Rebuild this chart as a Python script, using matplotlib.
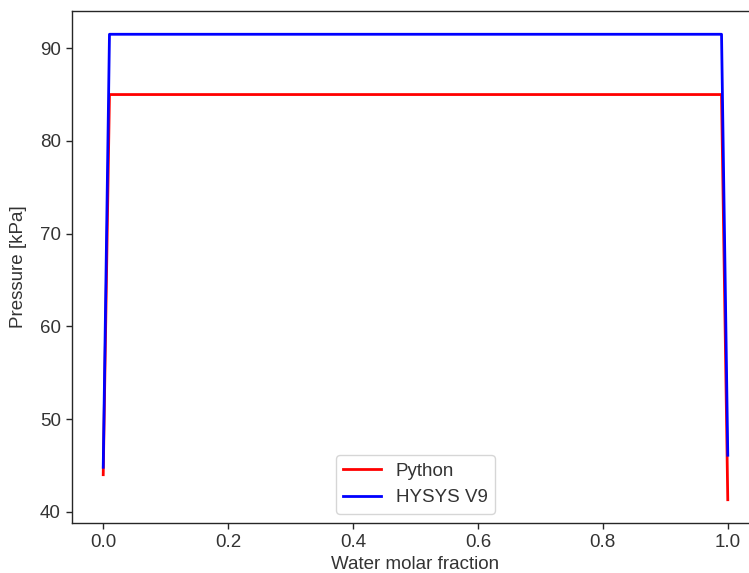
import matplotlib
matplotlib.use("Agg")
import matplotlib.pyplot as plt

# Data
water_fraction = [0.0, 0.01, 0.99, 1.0]
python_pressure = [44.0, 85.0, 85.0, 41.3]
hysys_pressure = [44.8, 91.5, 91.5, 46.1]

plt.rcParams['font.family'] = ['Liberation Sans', 'DejaVu Sans']
text_color = '#333333'
plt.rcParams.update({
    'axes.edgecolor': '#262626',
    'axes.labelcolor': text_color,
    'xtick.color': '#262626',
    'ytick.color': '#262626',
    'xtick.labelcolor': text_color,
    'ytick.labelcolor': text_color,
    'text.color': text_color,
})

fig = plt.figure(figsize=(7.49, 5.73), dpi=100)
ax = fig.add_axes([72/749, 50/573, 687/749, 512/573])

ax.plot(water_fraction, python_pressure, color='red', lw=2.0, label='Python')
ax.plot(water_fraction, hysys_pressure, color='blue', lw=2.0, label='HYSYS V9')

fs = 13.5
ax.set_xlabel('Water molar fraction', fontsize=fs, labelpad=3.5)
ax.set_ylabel('Pressure [kPa]', fontsize=fs, labelpad=9)
ax.tick_params(labelsize=fs, length=4.5, width=1.0)
for s in ax.spines.values():
    s.set_linewidth(1.0)

ax.set_xticks([0.0, 0.2, 0.4, 0.6, 0.8, 1.0])
ax.set_yticks([40, 50, 60, 70, 80, 90])

leg = ax.legend(loc='lower center', fontsize=fs, frameon=True)
leg.get_frame().set_edgecolor('#cccccc')

fig.savefig('out.png', dpi=100)
